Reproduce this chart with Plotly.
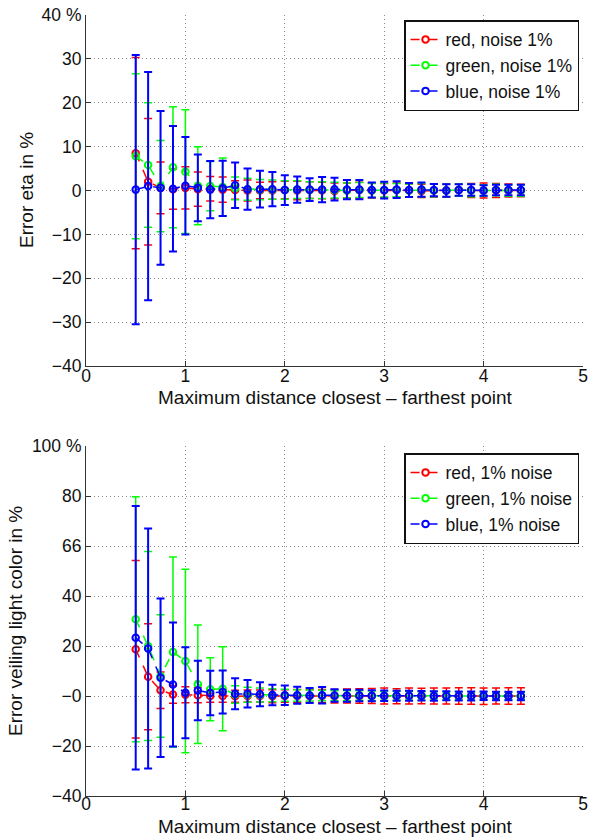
import plotly.graph_objects as go

# ---------------- data ----------------
x_vals = [0.5, 0.625, 0.75, 0.875, 1.0, 1.125, 1.25, 1.375, 1.5, 1.625, 1.75, 1.875,
          2.0, 2.125, 2.25, 2.375, 2.5, 2.625, 2.75, 2.875, 3.0, 3.125, 3.25, 3.375,
          3.5, 3.625, 3.75, 3.875, 4.0, 4.125, 4.25, 4.375]

# top panel: error eta (%)
eta_red_mean = [8.5, 2.0, 0.6, 0.3, 0.6, 0.3, 0.4, 0.2, 0.1, 0.0, 0.0, 0.0,
                0.1, 0.0, 0.1, 0.0, -0.1, 0.0, 0.1, 0.0, 0.0, 0.1, 0.0, -0.1,
                0.0, 0.0, 0.1, 0.0, 0.0, 0.0, 0.0, 0.0]
eta_red_err = [21.8, 14.4, 5.9, 4.6, 4.8, 3.9, 2.8, 2.9, 2.1, 2.4, 1.9, 2.0,
               2.0, 2.1, 1.9, 1.9, 1.8, 1.7, 1.8, 1.7, 1.6, 1.6, 1.5, 1.5,
               1.5, 1.5, 1.4, 1.6, 1.7, 1.6, 1.5, 1.4]
eta_green_mean = [7.8, 5.8, 1.0, 5.3, 4.3, 1.1, 1.0, 0.8, 0.5, 0.3, 0.2, 0.2,
                  0.1, 0.2, 0.1, 0.1, 0.1, 0.0, 0.1, 0.0, 0.1, 0.1, 0.0, 0.1,
                  0.0, 0.0, 0.1, 0.0, 0.0, 0.1, 0.0, 0.0]
eta_green_err = [18.8, 14.2, 10.4, 13.8, 14.1, 8.9, 5.6, 6.6, 2.6, 2.5, 2.3, 2.2,
                 2.1, 2.0, 1.9, 1.9, 1.8, 1.7, 1.7, 1.6, 1.6, 1.5, 1.5, 1.5,
                 1.4, 1.4, 1.4, 1.4, 1.3, 1.3, 1.3, 1.3]
eta_blue_mean = [0.2, 1.0, 0.6, 0.4, 1.1, 0.6, 0.2, 0.5, 1.2, 0.3, 0.3, 0.3,
                 0.1, 0.2, 0.2, 0.2, 0.3, 0.2, 0.2, 0.1, 0.1, 0.2, 0.1, 0.2,
                 0.1, 0.0, 0.1, 0.1, 0.0, 0.1, 0.1, 0.1]
eta_blue_err = [30.7, 26.0, 17.5, 14.3, 11.1, 7.6, 6.5, 6.3, 5.2, 4.7, 4.2, 3.9,
                3.4, 3.0, 2.6, 2.9, 2.6, 2.2, 2.2, 1.7, 1.9, 1.9, 1.6, 1.6,
                1.4, 1.4, 1.3, 1.3, 1.2, 1.2, 1.2, 1.2]

# bottom panel: error veiling light color (%)
vl_red_mean = [18.7, 7.7, 2.3, 0.6, 0.5, 0.3, 0.0, 0.0, -0.1, 0.0, 0.0, -0.1,
               0.0, 0.0, 0.0, 0.0, -0.1, 0.0, 0.0, 0.0, 0.0, -0.1, 0.0, 0.0,
               0.0, 0.0, 0.0, 0.0, -0.1, 0.0, 0.0, 0.0]
vl_red_err = [35.5, 21.2, 7.3, 3.5, 3.2, 3.0, 2.5, 2.5, 2.4, 2.4, 2.4, 2.6,
              2.5, 2.6, 2.5, 2.6, 2.7, 2.8, 2.9, 3.0, 3.2, 3.0, 3.2, 3.1,
              3.2, 3.2, 3.3, 3.3, 3.3, 3.2, 3.3, 3.3]
vl_green_mean = [30.7, 20.0, 8.0, 17.6, 14.0, 4.7, 2.7, 2.9, 0.6, 0.5, 0.4, 0.3,
                 0.3, 0.2, 0.2, 0.2, 0.1, 0.1, 0.2, 0.1, 0.1, 0.1, 0.1, 0.0,
                 0.1, 0.0, 0.1, 0.0, 0.0, 0.1, 0.0, 0.0]
vl_green_err = [49.0, 37.8, 24.5, 38.0, 36.7, 23.7, 12.6, 16.8, 3.5, 3.0, 2.8, 2.6,
                2.4, 2.3, 2.2, 2.1, 2.0, 2.0, 1.9, 1.9, 1.8, 1.8, 1.7, 1.7,
                1.7, 1.6, 1.6, 1.6, 1.6, 1.5, 1.5, 1.5]
vl_blue_mean = [23.3, 19.0, 7.3, 4.6, 1.3, 2.2, 1.2, 1.6, 0.9, 0.9, 0.7, 0.4,
                0.3, 0.3, 0.2, 0.3, 0.2, 0.1, 0.2, 0.1, 0.1, 0.1, 0.1, 0.1,
                0.0, 0.1, 0.0, 0.0, 0.1, 0.0, 0.0, 0.0]
vl_blue_err = [52.7, 48.0, 31.7, 24.8, 18.2, 11.9, 8.9, 8.6, 6.2, 5.5, 4.8, 4.1,
               3.9, 3.4, 3.0, 3.3, 2.5, 2.4, 2.3, 2.2, 2.1, 2.0, 2.0, 1.9,
               1.9, 1.8, 1.8, 1.8, 1.7, 1.7, 1.7, 1.7]

top_names = ["red, noise 1%", "green, noise 1%", "blue, noise 1%"]
bot_names = ["red, 1% noise", "green, 1% noise", "blue, 1% noise"]
colors = ["#ff0000", "#00ff00", "#0000ff"]

x_ticks = [0, 1, 2, 3, 4, 5]
x_ticktext = ["0", "1", "2", "3", "4", "5"]
top_yticks = [40, 30, 20, 10, 0, -10, -20, -30, -40]
top_yticktext = ["40 %", "30", "20", "10", "0", "\u221210", "\u221220", "\u221230", "\u221240"]
bot_yticks = [100, 80, 60, 40, 20, 0, -20, -40]
bot_yticktext = ["100 %", "80", "66", "40", "20", "\u22120", "\u221220", "\u221240"]

x_title = "Maximum distance closest \u2013 farthest point"
top_ytitle = "Error eta in %"
bot_ytitle = "Error veiling light color in %"

FONT = "Liberation Sans, Arial, sans-serif"
TICK_SIZE = 17.5
TITLE_SIZE = 19
LEGEND_SIZE = 17.5

fig = go.Figure()

def add_series(means, errs, name, color, xa, ya, legend, thick):
    fig.add_trace(go.Scatter(
        x=x_vals, y=means, name=name, mode="lines+markers",
        xaxis=xa, yaxis=ya, legend=legend,
        line=dict(color=color, width=1.5, dash="dash"),
        marker=dict(symbol="circle-open", size=6.5, color=color, line=dict(width=2, color=color)),
        error_y=dict(type="data", array=errs, symmetric=True, color=color,
                     thickness=thick, width=4),
    ))

top_sets = [(eta_red_mean, eta_red_err), (eta_green_mean, eta_green_err), (eta_blue_mean, eta_blue_err)]
bot_sets = [(vl_red_mean, vl_red_err), (vl_green_mean, vl_green_err), (vl_blue_mean, vl_blue_err)]
thicks = [1.5, 1.5, 2]
for (m, e), n, c, t in zip(top_sets, top_names, colors, thicks):
    add_series(m, e, n, c, "x", "y", "legend", t)
for (m, e), n, c, t in zip(bot_sets, bot_names, colors, thicks):
    add_series(m, e, n, c, "x2", "y2", "legend2", t)

axis_common = dict(
    showline=True, linecolor="#333333", linewidth=1, mirror=False,
    ticks="inside", ticklen=5, tickcolor="#333333",
    showgrid=True, gridcolor="#8a8a8a", griddash="1px,3px", gridwidth=1,
    zeroline=False, automargin=False, ticklabeloverflow="allow",
    tickfont=dict(family=FONT, size=TICK_SIZE, color="#111111"),
)

top_bottom = (796 - 366) / 781
bot_top = (796 - 446) / 781

def py(pix):
    return (796 - pix) / 781

def px(pix):
    return (pix - 86) / 497

annotations = [
    dict(text=x_title, x=0.5, y=py(397.5), xref="paper", yref="paper",
         xanchor="center", yanchor="middle", showarrow=False, font=dict(size=TITLE_SIZE)),
    dict(text=x_title, x=0.5, y=py(826.5), xref="paper", yref="paper",
         xanchor="center", yanchor="middle", showarrow=False, font=dict(size=TITLE_SIZE)),
    dict(text=top_ytitle, x=px(26), y=py(190), xref="paper", yref="paper", textangle=-90,
         xanchor="center", yanchor="middle", showarrow=False, font=dict(size=TITLE_SIZE)),
    dict(text=bot_ytitle, x=px(15), y=py(621), xref="paper", yref="paper", textangle=-90,
         xanchor="center", yanchor="middle", showarrow=False, font=dict(size=TITLE_SIZE)),
]

fig.update_layout(
    width=595, height=838,
    margin=dict(l=86, r=12, t=15, b=42),
    paper_bgcolor="white", plot_bgcolor="white",
    font=dict(family=FONT, size=TITLE_SIZE, color="#111111"),
    xaxis=dict(domain=[0, 1], anchor="y", range=[0, 5], tickvals=x_ticks, ticktext=x_ticktext,
               ticklabelstandoff=-6, **axis_common),
    yaxis=dict(domain=[top_bottom, 1], anchor="x", range=[-40, 40], tickvals=top_yticks,
               ticktext=top_yticktext, **axis_common),
    xaxis2=dict(domain=[0, 1], anchor="y2", range=[0, 5], tickvals=x_ticks, ticktext=x_ticktext,
                ticklabelstandoff=-8, **axis_common),
    yaxis2=dict(domain=[0, bot_top], anchor="x2", range=[-40, 100], tickvals=bot_yticks,
                ticktext=bot_yticktext, **axis_common),
    legend=dict(x=0.992, xanchor="right", y=py(20), yanchor="top",
                bgcolor="white", bordercolor="#111111", borderwidth=1.5,
                font=dict(family=FONT, size=LEGEND_SIZE), tracegroupgap=0, itemwidth=30),
    legend2=dict(x=0.992, xanchor="right", y=py(453), yanchor="top",
                 bgcolor="white", bordercolor="#111111", borderwidth=1.5,
                 font=dict(family=FONT, size=LEGEND_SIZE), tracegroupgap=0, itemwidth=30),
    annotations=annotations,
    showlegend=True,
)

fig.write_html("out.html", config={"displayModeBar": False},
               post_script="document.body.style.margin='0';document.body.style.overflow='hidden';")
